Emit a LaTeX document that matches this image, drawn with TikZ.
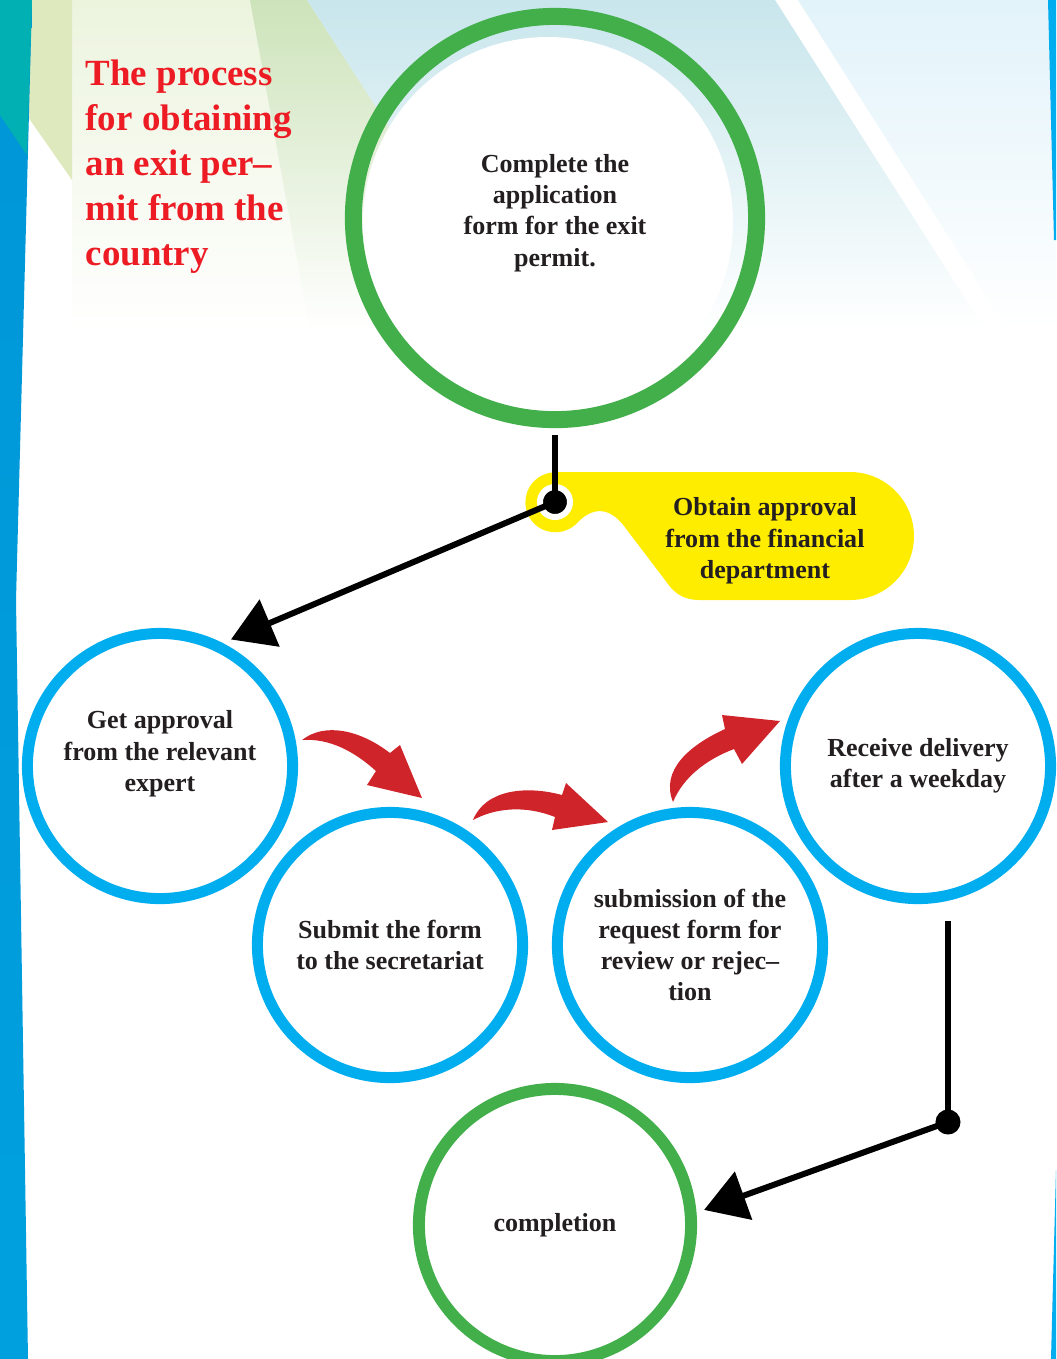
\documentclass[tikz,border=0pt]{standalone}
\usepackage{fontspec}
\setmainfont{Liberation Serif}
\usetikzlibrary{arrows.meta}
\definecolor{ringgreen}{RGB}{66,175,74}
\definecolor{ringblue}{RGB}{0,174,239}
\definecolor{ink}{RGB}{35,31,32}
\definecolor{titlered}{RGB}{237,28,36}
\definecolor{arrowred}{RGB}{208,36,43}
\definecolor{tagyellow}{RGB}{255,237,0}
\definecolor{skyA}{RGB}{200,230,236}
\definecolor{skyB}{RGB}{226,243,250}
\definecolor{paleA}{RGB}{236,244,222}
\definecolor{paleB}{RGB}{205,227,186}
\definecolor{paleC}{RGB}{222,233,190}
\definecolor{stripeteal}{RGB}{0,176,178}
\definecolor{stripetop}{RGB}{0,150,215}
\definecolor{stripemid}{RGB}{0,88,138}
\definecolor{stripebot}{RGB}{0,160,222}
\newcommand\steptext{\fontsize{7.4}{8.9}\selectfont\bfseries}
\newcommand\titletext{\fontsize{10.5}{12.8}\selectfont\bfseries}
% text lifted inside its ring, ring stays in place
\newcommand\liftup[2]{\raisebox{#1}[\height][\depth]{\begin{tabular}{@{}c@{}}#2\end{tabular}}}

\begin{document}
\begin{tikzpicture}[x=0.01cm, y=-0.01cm,
  greenring/.style={circle, draw=ringgreen, line width=1.7mm, minimum size=40.3mm, inner sep=0pt, align=center, font=\steptext, text=ink},
  bluering/.style={circle, draw=ringblue, line width=1.1mm, minimum size=26.5mm, inner sep=0pt, align=center, font=\steptext, text=ink},
  endring/.style={circle, draw=ringgreen, line width=1.2mm, minimum size=27.2mm, inner sep=0pt, align=center, font=\steptext, text=ink},
  joint/.style={circle, fill=black, inner sep=0pt, minimum size=2.5mm},
  link/.style={line width=0.6mm, -{Triangle[length=4.2mm,width=5mm]}}]
\useasboundingbox (0,0) rectangle (1056,1359);

% Background
\fill[white] (0,0) rectangle (1056,1359);
\shade[top color=paleA, bottom color=white] (72,0) rectangle (307,330);
\shade[top color=paleB, bottom color=white] (250,0) -- (307,0) -- (430,190) -- (420,330) -- (310,330) -- cycle;
\shade[top color=skyA, bottom color=white] (307,0) -- (775,0) -- (985,330) -- (520,330) -- cycle;
\shade[top color=skyB, bottom color=white] (798,0) -- (1056,0) -- (1056,330) -- (1008,330) -- cycle;
\fill[paleC] (30,0) -- (72,0) -- (72,180) -- (28,117) -- cycle;
\shade[top color=stripetop, middle color=stripemid, bottom color=stripebot] (0,0) -- (32,0) -- (16,600) -- (28,1359) -- (0,1359) -- cycle;
\fill[stripeteal] (0,0) -- (32,0) -- (27,155) -- (0,115) -- cycle;
\fill[ringblue] (1048,0) -- (1056,0) -- (1056,240) -- (1054,240) -- cycle;
\fill[ringblue] (1051,1359) -- (1056,1359) -- (1056,1170) -- cycle;
\fill[white] (548,222) circle[radius=185];

% Yellow tag
\fill[tagyellow] (555,472) -- (850,472) arc[start angle=-90, end angle=90, radius=64]
  -- (700,600) .. controls (680,600) and (672,590) .. (665,580) -- (627,530)
  .. controls (612,508) and (595,505) .. (578,522) arc[start angle=41, end angle=270, radius=30] -- cycle;

% Red arrows
\fill[arrowred] (302,740) .. controls (325,722) and (360,730) .. (390,753) -- (400,745) -- (422,798)
  -- (367,785) -- (376,771) .. controls (355,752) and (330,738) .. cycle; % expert --> secretariat
\fill[arrowred] (473,820) .. controls (485,790) and (525,785) .. (562,795) -- (566,783) -- (608,822)
  -- (552,830) -- (555,817) .. controls (525,805) and (495,808) .. cycle; % secretariat --> review
\fill[arrowred] (673,802) .. controls (660,770) and (690,745) .. (725,729) -- (722,715) -- (780,721)
  -- (742,764) -- (734,749) .. controls (705,760) and (683,778) .. cycle; % review --> delivery

% Nodes
\node[anchor=north west, inner sep=0pt, align=left, font=\titletext, text=titlered] (title) at (85,59)
  {The process\\for obtaining\\an exit per–\\mit from the\\country};
\node[greenring] (permit) at (555,218) {\liftup{0.05cm}{Complete the\\application\\form for the exit\\permit.}};
\node[align=center, font=\steptext, text=ink] (finance) at (765,541) {Obtain approval\\from the financial\\department};
\node[bluering] (expert) at (160,766) {\liftup{0.12cm}{Get approval\\from the relevant\\expert}};
\node[bluering] (secretariat) at (390,945) {Submit the form\\to the secretariat};
\node[bluering] (review) at (690,945) {submission of the\\request form for\\review or rejec–\\tion};
\node[bluering] (delivery) at (918,766) {Receive delivery\\after a weekday};
\node[endring] (done) at (555,1225) {completion};
\node[joint, draw=white, line width=0.6mm, minimum size=3mm] (jn1) at (555,502) {};
\node[joint] (jn2) at (948,1122) {};

% Links
\draw[line width=0.6mm, shorten <=0.7mm] (permit.south) -- (jn1.center); % permit --> jn1
\draw[link, shorten >=0.9mm] (jn1.center) -- (expert.63); % jn1 --> expert
\draw[line width=0.6mm, shorten <=1.7mm] (jn2.center |- delivery.south) -- (jn2.center); % delivery --> jn2
\draw[link, shorten >=0.8mm] (jn2.center) -- (done.5); % jn2 --> completion

\end{tikzpicture}
\end{document}
